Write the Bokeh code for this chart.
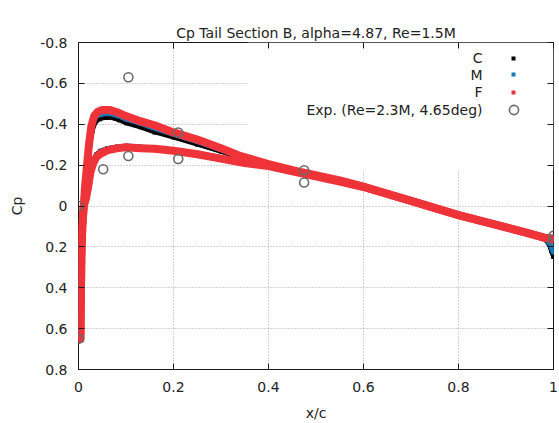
from bokeh.plotting import figure
from bokeh.models import (Range1d, FixedTicker, LinearAxis, Label, Legend, LegendItem,
                          BoxAnnotation, CustomJSTickFormatter)
from bokeh.embed import file_html
from bokeh.resources import INLINE

# ---------------- data ----------------
title_text = "Cp Tail Section B, alpha=4.87, Re=1.5M"
x_ticks = [0.0, 0.2, 0.4, 0.6, 0.8, 1.0]
x_tick_labels = ["0", "0.2", "0.4", "0.6", "0.8", "1"]
y_ticks = [-0.8, -0.6, -0.4, -0.2, 0.0, 0.2, 0.4, 0.6, 0.8]
y_tick_labels = ["-0.8", "-0.6", "-0.4", "-0.2", "0", "0.2", "0.4", "0.6", "0.8"]

# leading-edge stagnation branch (common start of both surfaces)
le_x = [0.004, 0.005, 0.006, 0.008, 0.011]
le_cp = [0.65, 0.45, 0.25, 0.10, 0.0]

# C (black)
c_up_x = [0.015, 0.020, 0.025, 0.030, 0.036, 0.045, 0.055, 0.070, 0.085, 0.100, 0.130, 0.160,
          0.200, 0.250, 0.300, 0.340, 0.400, 0.470, 0.550, 0.600, 0.700, 0.800, 0.900, 0.950,
          0.980, 0.990, 0.995, 1.000]
c_up_cp = [-0.10, -0.20, -0.30, -0.37, -0.41, -0.425, -0.43, -0.43, -0.42, -0.405, -0.385, -0.36,
           -0.335, -0.30, -0.265, -0.235, -0.20, -0.165, -0.125, -0.095, -0.025, 0.045, 0.105, 0.130,
           0.160, 0.185, 0.220, 0.250]
c_lo_x = [0.016, 0.020, 0.025, 0.031, 0.038, 0.046, 0.060, 0.080, 0.100, 0.130, 0.160, 0.200,
          0.250, 0.300, 0.350, 0.400, 0.470, 0.550, 0.600, 0.700, 0.800, 0.900, 0.950, 0.980,
          0.990, 0.995, 1.000]
c_lo_cp = [-0.05, -0.10, -0.18, -0.23, -0.255, -0.27, -0.283, -0.29, -0.295, -0.29, -0.285, -0.275,
           -0.26, -0.238, -0.213, -0.197, -0.16, -0.12, -0.093, -0.025, 0.045, 0.105, 0.130, 0.160,
           0.185, 0.220, 0.250]

# M (blue)
m_up_x = [0.014, 0.018, 0.022, 0.027, 0.032, 0.038, 0.046, 0.055, 0.070, 0.085, 0.100, 0.130,
          0.160, 0.200, 0.250, 0.300, 0.340, 0.400, 0.470, 0.550, 0.600, 0.700, 0.800, 0.900,
          0.950, 0.980, 0.990, 1.000]
m_up_cp = [-0.10, -0.20, -0.30, -0.38, -0.42, -0.44, -0.448, -0.452, -0.45, -0.44, -0.425, -0.405,
           -0.38, -0.35, -0.315, -0.275, -0.24, -0.20, -0.165, -0.125, -0.095, -0.025, 0.045, 0.105,
           0.135, 0.155, 0.175, 0.225]
m_lo_x = [0.016, 0.020, 0.025, 0.031, 0.038, 0.046, 0.060, 0.080, 0.100, 0.130, 0.160, 0.200,
          0.250, 0.300, 0.350, 0.400, 0.470, 0.550, 0.600, 0.700, 0.800, 0.900, 0.950, 0.980,
          0.990, 1.000]
m_lo_cp = [-0.045, -0.095, -0.17, -0.22, -0.25, -0.265, -0.28, -0.288, -0.293, -0.288, -0.283, -0.273,
           -0.258, -0.236, -0.211, -0.196, -0.16, -0.12, -0.093, -0.025, 0.045, 0.105, 0.135, 0.155,
           0.175, 0.225]

# F (red)
f_up_x = [0.014, 0.018, 0.022, 0.027, 0.033, 0.040, 0.050, 0.065, 0.080, 0.100, 0.130, 0.160,
          0.200, 0.250, 0.300, 0.340, 0.400, 0.470, 0.550, 0.600, 0.700, 0.800, 0.900, 0.950,
          0.980, 1.000]
f_up_cp = [-0.10, -0.20, -0.30, -0.39, -0.44, -0.46, -0.47, -0.47, -0.46, -0.44, -0.415, -0.395,
           -0.36, -0.325, -0.283, -0.245, -0.205, -0.165, -0.125, -0.095, -0.025, 0.045, 0.105, 0.135,
           0.155, 0.16]
f_lo_x = [0.016, 0.020, 0.025, 0.031, 0.038, 0.046, 0.060, 0.080, 0.100, 0.130, 0.160, 0.200,
          0.250, 0.300, 0.350, 0.400, 0.470, 0.550, 0.600, 0.700, 0.800, 0.900, 0.950, 0.980, 1.000]
f_lo_cp = [-0.04, -0.09, -0.165, -0.21, -0.24, -0.255, -0.272, -0.282, -0.287, -0.283, -0.28, -0.27,
           -0.253, -0.232, -0.21, -0.195, -0.16, -0.12, -0.093, -0.025, 0.045, 0.105, 0.135, 0.155, 0.16]

# Experiment
exp_x = [0.0, 0.0, 0.052, 0.105, 0.105, 0.21, 0.21, 0.475, 0.475, 1.0, 1.0]
exp_cp = [0.0, 0.65, -0.18, -0.63, -0.245, -0.36, -0.23, -0.175, -0.115, 0.145, 0.165]

series_names = ["C", "M", "F"]
exp_name = "Exp. (Re=2.3M, 4.65deg)"

# ---------------- styling ----------------
FONT = "DejaVu Sans"
TXT = "#222222"
C_COL = "#000000"
M_COL = "#1679bd"
F_COL = "#ee3339"
E_COL = "#6a6a6a"

W, H = 559, 423
B_LEFT, B_RIGHT, B_TOP, B_BOTTOM = 78, 6, 42, 54

p = figure(width=W, height=H, output_backend="svg", toolbar_location=None,
           x_range=Range1d(0, 1), y_range=Range1d(0.8, -0.8),
           min_border_left=B_LEFT, min_border_right=B_RIGHT,
           min_border_top=B_TOP, min_border_bottom=B_BOTTOM,
           title=title_text)
p.background_fill_color = "white"
p.border_fill_color = "white"
p.outline_line_color = "#1a1a1a"
p.outline_line_width = 1

p.title.text_font = FONT
p.title.text_font_size = "14px"
p.title.text_font_style = "normal"
p.title.text_color = TXT
p.title.align = "center"
p.title.standoff = 4

xa = p.below[0]
ya = p.left[0]
xa.ticker = FixedTicker(ticks=x_ticks)
ya.ticker = FixedTicker(ticks=y_ticks)
xa.major_label_overrides = dict(zip(x_ticks, x_tick_labels))
ya.major_label_overrides = dict(zip(y_ticks, y_tick_labels))
xa.axis_label = "x/c"
ya.axis_label = "Cp"
for ax in (xa, ya):
    ax.major_tick_in = 6
    ax.major_tick_out = 0
    ax.major_tick_line_color = "#1a1a1a"
    ax.minor_tick_line_color = None
    ax.axis_line_color = None
    ax.major_label_text_font = FONT
    ax.major_label_text_font_size = "14px"
    ax.major_label_text_color = TXT
    ax.axis_label_text_font = FONT
    ax.axis_label_text_font_size = "14px"
    ax.axis_label_text_font_style = "normal"
    ax.axis_label_text_color = TXT
xa.major_label_standoff = 12
xa.axis_label_standoff = 10
ya.major_label_standoff = 11
ya.axis_label_standoff = 12

# mirrored ticks on top and right (gnuplot border tics); the top one also keeps
# the title well above the frame, as gnuplot places it
spacer = CustomJSTickFormatter(code="return ' '")
blank = CustomJSTickFormatter(code="return ''")
top_ax = LinearAxis(ticker=FixedTicker(ticks=x_ticks), formatter=spacer,
                    major_label_standoff=0, major_label_text_color=None,
                    major_label_text_font=FONT, major_label_text_font_size="14px",
                    major_tick_in=6, major_tick_out=0, major_tick_line_color="#1a1a1a",
                    minor_tick_line_color=None, axis_line_color=None)
right_ax = LinearAxis(ticker=FixedTicker(ticks=y_ticks), formatter=blank,
                      major_label_standoff=0, major_label_text_color=None,
                      major_tick_in=6, major_tick_out=0, major_tick_line_color="#1a1a1a",
                      minor_tick_line_color=None, axis_line_color=None)
p.add_layout(top_ax, "above")
p.add_layout(right_ax, "right")

p.xgrid.ticker = FixedTicker(ticks=x_ticks)
p.ygrid.ticker = FixedTicker(ticks=y_ticks)
p.grid.grid_line_color = "#a8a8a8"
p.grid.grid_line_dash = "1 2"
p.grid.grid_line_width = 1

# opaque key box (as gnuplot draws it), under the data but over the grid
key_box = BoxAnnotation(left=0.356, bottom=-0.178, fill_color="white", fill_alpha=1.0,
                        line_color=None, level="underlay")
p.add_layout(key_box)

# ---------------- data renderers ----------------
def draw(up_x, up_cp, lo_x, lo_cp, col, lw):
    p.line(le_x + lo_x, le_cp + lo_cp, line_color=col, line_width=lw,
           line_join="round", line_cap="round")
    p.line(le_x + up_x, le_cp + up_cp, line_color=col, line_width=lw,
           line_join="round", line_cap="round")
    return p.scatter(le_x + up_x + lo_x, le_cp + up_cp + lo_cp, marker="square", size=4,
                     fill_color=col, line_color=None)

r_c = draw(c_up_x, c_up_cp, c_lo_x, c_lo_cp, C_COL, 4)
r_m = draw(m_up_x, m_up_cp, m_lo_x, m_lo_cp, M_COL, 5)
r_f = draw(f_up_x, f_up_cp, f_lo_x, f_lo_cp, F_COL, 8)
r_e = p.scatter(exp_x, exp_cp, marker="circle", size=9, fill_color=None,
                line_color=E_COL, line_width=1.6)

frame_bottom = H - B_BOTTOM  # canvas y of the frame bottom

# ---------------- gnuplot-style key: right-aligned text, sample on the right ----------------
rows_canvas_y = [57.7, 74.3, 91.7, 109.0]
text_right = 404     # from frame left
sample_x = 435       # from frame left
labels_all = series_names + [exp_name]
rends = [r_c, r_m, r_f, r_e]
gsizes = [10, 10, 10, 23]
for txt, cy, rend, g in zip(labels_all, rows_canvas_y, rends, gsizes):
    sy = frame_bottom - cy
    p.add_layout(Label(x=text_right, y=sy, x_units="screen", y_units="screen", text=txt,
                       text_align="right", text_baseline="middle", text_font=FONT,
                       text_font_size="14px", text_color=TXT))
    lg = Legend(items=[LegendItem(label="", renderers=[rend])],
                location=(int(round(sample_x - g / 2)), int(round(sy - g / 2))),
                glyph_width=g, glyph_height=g, label_width=0, label_height=0,
                label_standoff=0, label_text_font_size="1px", padding=0, margin=0,
                spacing=0, border_line_color=None, background_fill_alpha=0.0)
    p.add_layout(lg)

open("out.html", "w").write(file_html(p, INLINE))
